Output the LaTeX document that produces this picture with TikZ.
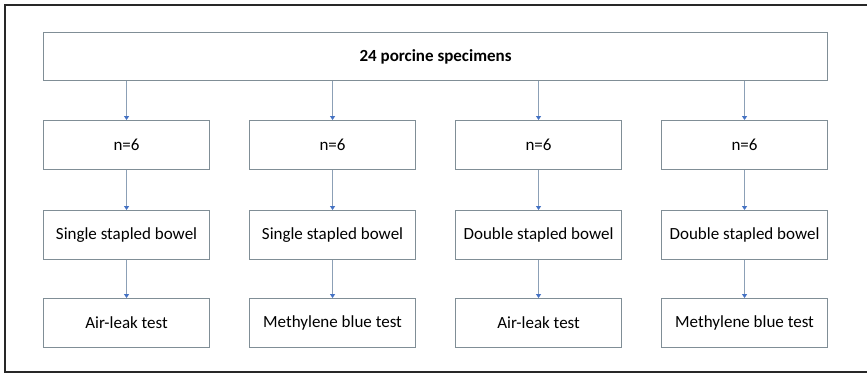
\documentclass[tikz,border=0pt]{standalone}
\usepackage{fontspec}
\setmainfont{Carlito}
\usetikzlibrary{arrows.meta}
\definecolor{boxgray}{RGB}{128,142,150}
\definecolor{linegray}{RGB}{140,160,182}
\definecolor{tipblue}{RGB}{68,114,196}
\definecolor{framegray}{RGB}{40,40,40}
\tikzset{
  box/.style={draw=boxgray, line width=1.1pt, minimum width=166pt, minimum height=49pt, inner sep=0pt, font=\fontsize{17}{20}\selectfont, anchor=north west},
  conn/.style={draw=linegray, line width=1pt, -{Triangle[width=5pt,length=4pt,fill=tipblue,color=tipblue]}}
}
\begin{document}
\begin{tikzpicture}[x=1pt,y=-1pt]
\useasboundingbox (0,0) rectangle (867,373);
\draw[framegray, line width=1.2pt] (867,5) -- (5,5) -- (5,372) -- (867,372);
\node[box, minimum width=784pt, minimum height=48pt, font=\bfseries\fontsize{17}{20}\selectfont] (top) at (43,32) {24 porcine specimens};
\foreach \i/\x/\t/\u in {1/43/Single stapled bowel/Air-leak test,2/249/Single stapled bowel/Methylene blue test,3/455/Double stapled bowel/Air-leak test,4/661/Double stapled bowel/Methylene blue test}{
  \node[box] (a\i) at (\x,120) {n=6};
  \node[box] (b\i) at (\x,210) {\t};
  \node[box] (c\i) at (\x,298) {\u};
  \draw[conn] (top.south -| a\i.north) -- (a\i.north);
  \draw[conn] (a\i) -- (b\i);
  \draw[conn] (b\i) -- (c\i);
}
\end{tikzpicture}
\end{document}
